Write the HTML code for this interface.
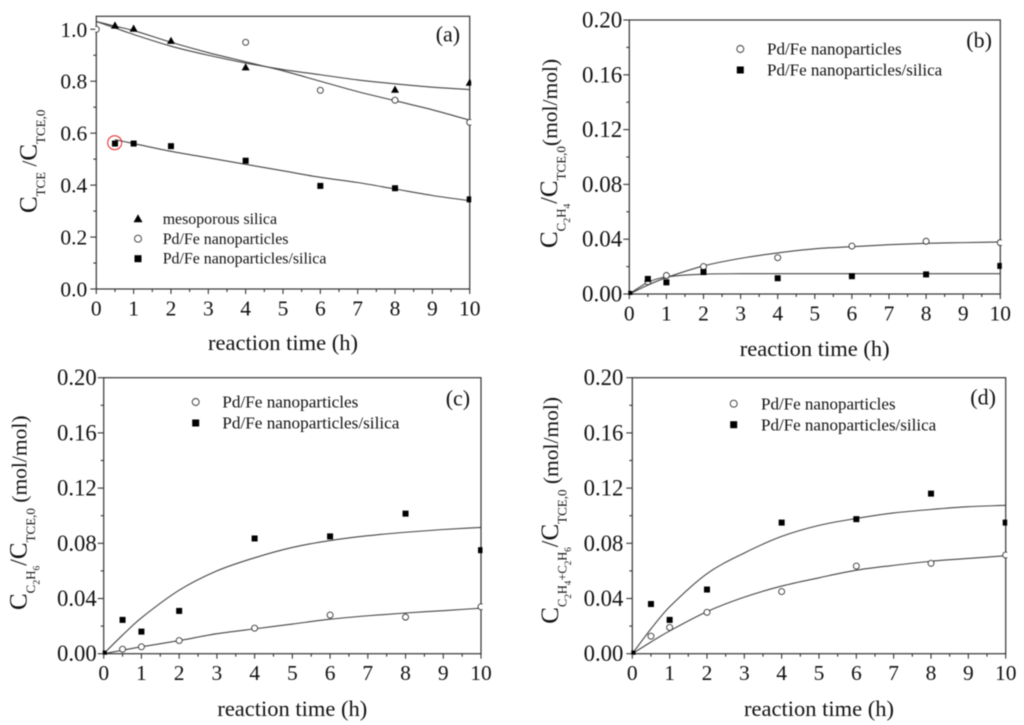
<!DOCTYPE html>
<html lang="en">
<head>
<meta charset="utf-8">
<title>Reaction time charts</title>
<style>
html,body{margin:0;padding:0;background:#fff;width:1024px;height:725px;overflow:hidden}
svg{display:block;filter:blur(0.45px)}
text{font-family:"Liberation Serif",serif;fill:#111}
</style>
</head>
<body>
<svg id="figure" xmlns="http://www.w3.org/2000/svg" width="1024" height="725" viewBox="0 0 1024 725"></svg>
<script>
// Shared tick labels
const xTickLabels = ['0','1','2','3','4','5','6','7','8','9','10'];
const yTickLabelsA = ['0.0','0.2','0.4','0.6','0.8','1.0'];
const yTickLabelsOther = ['0.00','0.04','0.08','0.12','0.16','0.20'];
const fitTimes = [0,0.5,1,2,3,4,5,6,7,8,9,10];

// Panel (a)
const aSilicaTimes = [0.5,1,2,4,8,10];
const aSilicaValues = [1.015,1.003,0.956,0.854,0.768,0.795];
const aNanoTimes = [0,4,6,8,10];
const aNanoValues = [1.0,0.95,0.765,0.727,0.642];
const aCompositeTimes = [0.5,1,2,4,6,8,10];
const aCompositeValues = [0.56,0.56,0.55,0.494,0.397,0.388,0.345];
const aSilicaFit = [1.03,1.005,0.98,0.935,0.90,0.87,0.845,0.825,0.805,0.79,0.777,0.768];
const aNanoFit = [1.03,1.012,0.995,0.95,0.91,0.875,0.84,0.80,0.76,0.725,0.69,0.65];
const aCompositeFitTimes = [0.5,1,2,3,4,5,6,7,8,9,10];
const aCompositeFit = [0.575,0.56,0.53,0.505,0.48,0.455,0.43,0.41,0.385,0.36,0.34];

// Panel (b)
const sampleTimes = [0,0.5,1,2,4,6,8,10];
const bNanoValues = [0,0.009,0.0135,0.020,0.0265,0.035,0.0385,0.0375];
const bCompositeValues = [0,0.011,0.0085,0.016,0.0115,0.013,0.0143,0.0205];
const bNanoFit = [0,0.0065,0.012,0.0205,0.026,0.030,0.033,0.0345,0.036,0.037,0.0375,0.038];
const bCompositeFit = [0,0.0085,0.0125,0.0145,0.0148,0.0148,0.0148,0.0148,0.0148,0.0148,0.0148,0.0148];

// Panel (c)
const cNanoValues = [0,0.0033,0.005,0.0095,0.0185,0.028,0.0265,0.034];
const cCompositeValues = [0,0.0245,0.016,0.031,0.0835,0.085,0.1015,0.075];
const cNanoFit = [0,0.0025,0.005,0.0095,0.0145,0.018,0.0215,0.025,0.0275,0.0295,0.0312,0.033];
const cCompositeFit = [0,0.0135,0.026,0.046,0.060,0.0695,0.077,0.082,0.0855,0.088,0.09,0.0915];

// Panel (d)
const dNanoValues = [0,0.0127,0.019,0.030,0.045,0.0635,0.0655,0.0715];
const dCompositeValues = [0,0.036,0.0245,0.0465,0.095,0.0975,0.116,0.095];
const dNanoFit = [0,0.0085,0.0165,0.0305,0.041,0.049,0.055,0.0605,0.064,0.067,0.069,0.071];
const dCompositeFit = [0,0.018,0.034,0.058,0.073,0.085,0.093,0.098,0.102,0.1045,0.1065,0.1075];

const NS = 'http://www.w3.org/2000/svg';
const figure = document.getElementById('figure');

function make(tag, parent, attrs) {
  const node = document.createElementNS(NS, tag);
  Object.keys(attrs || {}).forEach(function (k) { node.setAttribute(k, attrs[k]); });
  parent.appendChild(node);
  return node;
}

// Hermite spline through the fit values, with tangents that respect uneven spacing.
function smoothPath(xs, ys, xf, yf) {
  const slope = function (i) {
    const a = Math.max(i - 1, 0), b = Math.min(i + 1, xs.length - 1);
    return (yf(ys[b]) - yf(ys[a])) / (xf(xs[b]) - xf(xs[a]));
  };
  let d = 'M' + xf(xs[0]) + ' ' + yf(ys[0]);
  for (let i = 0; i < xs.length - 1; i++) {
    const x0 = xf(xs[i]), x1 = xf(xs[i + 1]), y0 = yf(ys[i]), y1 = yf(ys[i + 1]);
    const h = (x1 - x0) / 3;
    d += 'C' + (x0 + h) + ' ' + (y0 + slope(i) * h) + ' ' + (x1 - h) + ' ' + (y1 - slope(i + 1) * h) + ' ' + x1 + ' ' + y1;
  }
  return d;
}

function drawMarker(parent, kind, cx, cy, size) {
  if (kind === 'square') {
    const square = make('rect', parent, { x: cx - size, y: cy - size, width: 2 * size, height: 2 * size, fill: '#000' });
    
    
  } else if (kind === 'circle') {
    const circle = make('circle', parent, { cx: cx, cy: cy, r: size, fill: '#fff', stroke: '#333', 'stroke-width': 0.9 });
    
    
  } else {
    const s = size + 1;
    const triangle = make('polygon', parent, { points: [cx, cy - s, cx + s, cy + s * 0.8, cx - s, cy + s * 0.8].join(' '), fill: '#000' });
    
    
  }
}

function drawPanel(cfg) {
  const g = make('g', figure, {});
  
  

  const xf = function (v) { return cfg.left + (v / 10) * (cfg.right - cfg.left); };
  const yf = function (v) { return cfg.bottom - (v / cfg.yMax) * (cfg.bottom - cfg.top); };

  const clip = make('clipPath', g, { id: 'clip-' + cfg.id });
  make('rect', clip, { x: cfg.left - 1, y: cfg.top - 6, width: cfg.right - cfg.left + 2.5, height: cfg.bottom - cfg.top + 7 });

  // x ticks
  for (let i = 0; i <= 20; i++) {
    const major = i % 2 === 0;
    const xt = make('line', g, { x1: xf(i / 2), x2: xf(i / 2), y1: cfg.bottom, y2: cfg.bottom + (major ? 5 : 3), stroke: '#333', 'stroke-width': 1.1 });
    
    
  }
  xTickLabels.forEach(function (label) {
    const xl = make('text', g, { x: xf(Number(label)), y: cfg.bottom + 26.5, 'text-anchor': 'middle', 'font-size': 21.5 });
    
    
    xl.textContent = label;
  });

  // y ticks
  const yStep = Number(cfg.yLabels[1]) - Number(cfg.yLabels[0]);
  const minorCount = Math.floor(cfg.yMax / (yStep / 2) + 1e-6);
  for (let i = 0; i <= minorCount; i++) {
    const major = i % 2 === 0;
    const v = i * yStep / 2;
    const yt = make('line', g, { x1: cfg.left - (major ? 6 : 3), x2: cfg.left, y1: yf(v), y2: yf(v), stroke: '#333', 'stroke-width': 1.1 });
    
    
  }
  cfg.yLabels.forEach(function (label) {
    const yl = make('text', g, { x: cfg.left - cfg.yLabelGap, y: yf(Number(label)) + 7.5, 'text-anchor': 'end', 'font-size': cfg.yFont });
    
    
    yl.textContent = label;
  });

  // fit curves
  cfg.fits.forEach(function (fit) {
    const curve = make('path', g, { d: smoothPath(fit.x, fit.y, xf, yf), fill: 'none', stroke: '#444', 'stroke-width': 1.1, 'clip-path': 'url(#clip-' + cfg.id + ')' });
    
    
  });

  // frame
  const frame = make('rect', g, { x: cfg.left, y: cfg.top, width: cfg.right - cfg.left, height: cfg.bottom - cfg.top, fill: 'none', stroke: '#333', 'stroke-width': 1.2 });
  
  

  // data points
  cfg.series.forEach(function (s) {
    const sg = make('g', g, { 'clip-path': 'url(#clip-' + cfg.id + ')' });
    
    
    s.x.forEach(function (t, i) {
      drawMarker(sg, s.kind, xf(t), yf(s.y[i]), 3);
    });
  });

  // legend
  const lg = make('g', g, {});
  
  
  cfg.legend.forEach(function (entry) {
    const eg = make('g', lg, {});
    
    
    drawMarker(eg, entry.kind, cfg.legendMarkerX, entry.my, 3.5);
    const lt = make('text', eg, { x: cfg.legendTextX, y: entry.by, 'font-size': cfg.legendFont });
    
    
    lt.textContent = entry.label;
  });

  // panel tag
  const tag = make('text', g, { x: cfg.tagX, y: cfg.tagY, 'font-size': 22 });
  
  
  tag.textContent = '(' + cfg.id + ')';

  // x title
  const xTitle = make('text', g, { x: cfg.xTitleX, y: cfg.xTitleY, 'text-anchor': 'middle', 'font-size': 22.5 });
  
  
  xTitle.textContent = 'reaction time (h)';

  // y title
  const yTitle = make('text', g, { transform: 'translate(' + cfg.yTitleX + ' ' + cfg.yTitleY + ') rotate(-90)' });
  
  
  const levelDrop = [0, 8.5, 13];
  let level = 0;
  cfg.yTitle.forEach(function (part) {
    const span = make('tspan', yTitle, { 'font-size': part[2], dy: levelDrop[part[1]] - levelDrop[level], 'xml:space': 'preserve' });
    span.textContent = part[0];
    level = part[1];
  });
}

const marker = { mesoporous: 'mesoporous silica', nano: 'Pd/Fe nanoparticles', composite: 'Pd/Fe nanoparticles/silica' };

drawPanel({
  id: 'a', left: 96.3, right: 469.7, top: 16.3, bottom: 289, yMax: 1.05,
  yLabels: yTickLabelsA, yFont: 21.5, yLabelGap: 9,
  fits: [
    { name: 'fit-curve-mesoporous-silica', x: fitTimes, y: aSilicaFit },
    { name: 'fit-curve-nanoparticles', x: fitTimes, y: aNanoFit },
    { name: 'fit-curve-nanoparticles-silica', x: aCompositeFitTimes, y: aCompositeFit }
  ],
  series: [
    { name: 'series-mesoporous-silica', kind: 'triangle', x: aSilicaTimes, y: aSilicaValues },
    { name: 'series-nanoparticles', kind: 'circle', x: aNanoTimes, y: aNanoValues },
    { name: 'series-nanoparticles-silica', kind: 'square', x: aCompositeTimes, y: aCompositeValues }
  ],
  legendMarkerX: 138, legendTextX: 162.7, legendFont: 15.9,
  legend: [
    { kind: 'triangle', my: 218.7, by: 224, label: marker.mesoporous },
    { kind: 'circle', my: 238.7, by: 244, label: marker.nano },
    { kind: 'square', my: 258.7, by: 263.5, label: marker.composite }
  ],
  tagX: 435.7, tagY: 41.7, xTitleX: 283, xTitleY: 350,
  yTitleX: 36.7, yTitleY: 213,
  yTitle: [['C',0,25],['TCE',1,13],[' /',0,21],['C',0,25],['TCE,0',1,13]]
});

const redCircle = make('circle', figure, { cx: 114.7, cy: 142.7, r: 7, fill: 'none', stroke: '#e8201f', 'stroke-width': 1 });



drawPanel({
  id: 'b', left: 629.3, right: 1000.3, top: 20, bottom: 294, yMax: 0.2,
  yLabels: yTickLabelsOther, yFont: 23, yLabelGap: 7,
  fits: [
    { name: 'fit-curve-nanoparticles', x: fitTimes, y: bNanoFit },
    { name: 'fit-curve-nanoparticles-silica', x: fitTimes, y: bCompositeFit }
  ],
  series: [
    { name: 'series-nanoparticles', kind: 'circle', x: sampleTimes, y: bNanoValues },
    { name: 'series-nanoparticles-silica', kind: 'square', x: sampleTimes, y: bCompositeValues }
  ],
  legendMarkerX: 740.3, legendTextX: 767, legendFont: 17,
  legend: [
    { kind: 'circle', my: 49, by: 54.3, label: marker.nano },
    { kind: 'square', my: 70, by: 75.7, label: marker.composite }
  ],
  tagX: 966.3, tagY: 47.7, xTitleX: 814.7, xTitleY: 356,
  yTitleX: 557, yTitleY: 248,
  yTitle: [['C',0,25],['C',1,13],['2',2,9.5],['H',1,13],['4',2,9.5],['/',0,24],['C',0,25],['TCE,0',1,13],['(mol/mol)',0,21.5]]
});

drawPanel({
  id: 'c', left: 103.7, right: 481, top: 377.7, bottom: 653.7, yMax: 0.2,
  yLabels: yTickLabelsOther, yFont: 22.7, yLabelGap: 7,
  fits: [
    { name: 'fit-curve-nanoparticles', x: fitTimes, y: cNanoFit },
    { name: 'fit-curve-nanoparticles-silica', x: fitTimes, y: cCompositeFit }
  ],
  series: [
    { name: 'series-nanoparticles', kind: 'circle', x: sampleTimes, y: cNanoValues },
    { name: 'series-nanoparticles-silica', kind: 'square', x: sampleTimes, y: cCompositeValues }
  ],
  legendMarkerX: 195.7, legendTextX: 222.3, legendFont: 17.2,
  legend: [
    { kind: 'circle', my: 402, by: 407.3, label: marker.nano },
    { kind: 'square', my: 423, by: 428.7, label: marker.composite }
  ],
  tagX: 445.7, tagY: 405.3, xTitleX: 292.3, xTitleY: 716,
  yTitleX: 26.7, yTitleY: 610,
  yTitle: [['C',0,25],['C',1,13],['2',2,9.5],['H',1,13],['6',2,9.5],['/',0,24],['C',0,25],['TCE,0',1,13],[' (mol/mol)',0,21.5]]
});

drawPanel({
  id: 'd', left: 632.3, right: 1005.7, top: 377.7, bottom: 653.7, yMax: 0.2,
  yLabels: yTickLabelsOther, yFont: 22.7, yLabelGap: 9,
  fits: [
    { name: 'fit-curve-nanoparticles', x: fitTimes, y: dNanoFit },
    { name: 'fit-curve-nanoparticles-silica', x: fitTimes, y: dCompositeFit }
  ],
  series: [
    { name: 'series-nanoparticles', kind: 'circle', x: sampleTimes, y: dNanoValues },
    { name: 'series-nanoparticles-silica', kind: 'square', x: sampleTimes, y: dCompositeValues }
  ],
  legendMarkerX: 733.7, legendTextX: 761, legendFont: 17,
  legend: [
    { kind: 'circle', my: 403.7, by: 409.3, label: marker.nano },
    { kind: 'square', my: 424.7, by: 430.3, label: marker.composite }
  ],
  tagX: 970.3, tagY: 404.3, xTitleX: 819, xTitleY: 716,
  yTitleX: 558, yTitleY: 623.7,
  yTitle: [['C',0,25],['C',1,12.5],['2',2,9],['H',1,12.5],['4',2,9],['+C',1,12.5],['2',2,9],['H',1,12.5],['6',2,9],['/',0,24],['C',0,25],['TCE,0',1,13],[' (mol/mol)',0,21.5]]
});
</script>
</body>
</html>
